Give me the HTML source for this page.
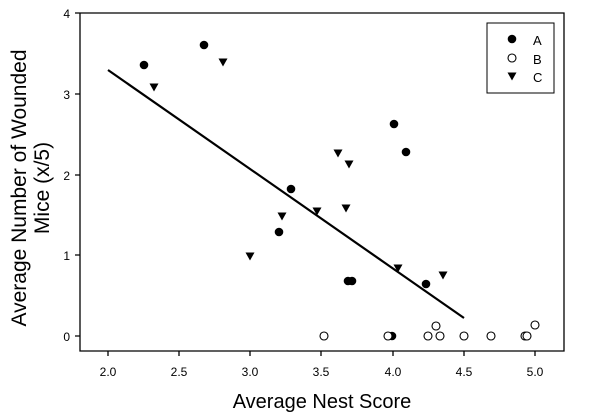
<!DOCTYPE html><html><head><style>body{margin:0;background:#fff}</style></head><body>
<svg width="600" height="415" xmlns="http://www.w3.org/2000/svg" font-family="Liberation Sans, sans-serif">
<defs><path id="t" d="M-4.5,-3.5 L4.5,-3.5 L0,4.5 Z"/></defs>
<g stroke="#000" stroke-width="1.3" fill="none">
<polyline points="80,13 80,351 564,351 564,13 80,13"/>
<path d="M108,351v5M179,351v5M250,351v5M321,351v5M393,351v5M464,351v5M535,351v5"/>
<path d="M80,13h-5M80,94h-5M80,175h-5M80,255h-5M80,336h-5"/>
<rect x="487" y="23" width="67" height="70" stroke-width="1"/>
<line x1="108" y1="70" x2="464" y2="318" stroke-width="2.2"/>
</g>
<g font-size="12" text-anchor="middle">
<text x="108" y="376">2.0</text><text x="179" y="376">2.5</text><text x="250" y="376">3.0</text><text x="321" y="376">3.5</text><text x="393" y="376">4.0</text><text x="464" y="376">4.5</text><text x="535" y="376">5.0</text>
</g>
<g font-size="12" text-anchor="end">
<text x="70" y="18">4</text><text x="70" y="99">3</text><text x="70" y="180">2</text><text x="70" y="260">1</text><text x="70" y="341">0</text>
</g>
<text x="322" y="408" font-size="20" text-anchor="middle">Average Nest Score</text>
<g transform="translate(26,188) rotate(-90)" font-size="21" text-anchor="middle"><text x="0" y="0">Average Number of Wounded</text><text x="0" y="23">Mice (x/5)</text></g>
<g fill="#000">
<circle cx="144" cy="65" r="4.3"/><circle cx="204" cy="45" r="4.3"/><circle cx="291" cy="189" r="4.3"/><circle cx="279" cy="232" r="4.3"/><circle cx="394" cy="124" r="4.3"/><circle cx="406" cy="152" r="4.3"/><circle cx="348" cy="281" r="4.3"/><circle cx="352" cy="281" r="4.3"/><circle cx="426" cy="284" r="4.3"/><circle cx="392" cy="336" r="4.3"/>
<use href="#t" x="154" y="87"/><use href="#t" x="223" y="62"/><use href="#t" x="250" y="256"/><use href="#t" x="282" y="216"/><use href="#t" x="317" y="211"/><use href="#t" x="338" y="153"/><use href="#t" x="349" y="164"/><use href="#t" x="346" y="208"/><use href="#t" x="398" y="268"/><use href="#t" x="443" y="275"/>
<circle cx="512" cy="39" r="4.3"/><use href="#t" x="512" y="76"/>
</g>
<g fill="#fff" stroke="#000" stroke-width="1.1">
<circle cx="324" cy="336" r="4"/><circle cx="388" cy="336" r="4"/><circle cx="428" cy="336" r="4"/><circle cx="436" cy="326" r="4"/><circle cx="440" cy="336" r="4"/><circle cx="464" cy="336" r="4"/><circle cx="491" cy="336" r="4"/><circle cx="525" cy="336" r="4"/><circle cx="527" cy="336" r="4"/><circle cx="535" cy="325" r="4"/>
<circle cx="512" cy="58" r="4"/>
</g>
<g font-size="13"><text x="533" y="45">A</text><text x="533" y="64">B</text><text x="533" y="82">C</text></g>
</svg></body></html>
